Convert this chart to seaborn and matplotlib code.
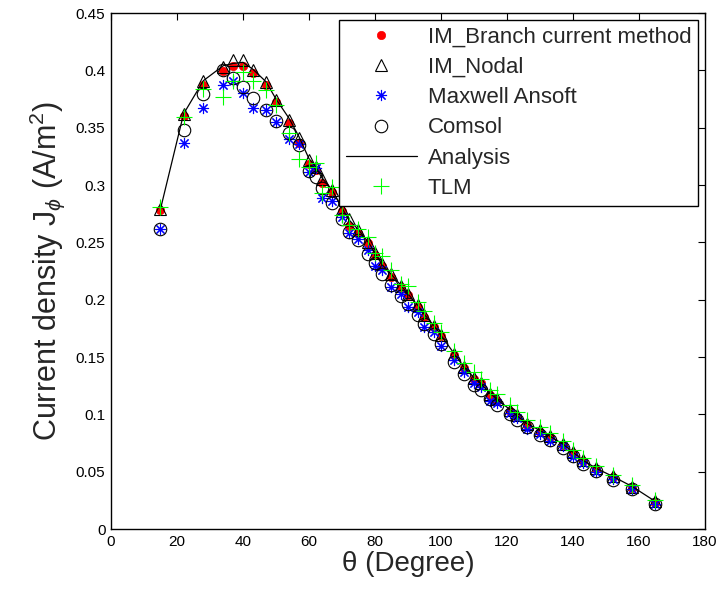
import numpy as np
import pandas as pd
import seaborn as sns
import matplotlib.pyplot as plt

# angle positions (degree)
theta = [15, 22, 28, 34, 37, 40, 43, 47, 50, 54, 57, 60, 62, 64, 67, 70, 72, 75, 78, 80,
         82, 85, 88, 90, 93, 95, 98, 100, 104, 107, 110, 112, 115, 117, 121, 123, 126, 130,
         133, 137, 140, 143, 147, 152, 158, 165]

branch = [0.278, 0.360, 0.3875, 0.399, 0.404, 0.4035, 0.398, 0.387, 0.372, 0.354, 0.337, 0.318,
          0.313, 0.302, 0.294, 0.277, 0.264, 0.258, 0.249, 0.239, 0.229, 0.220, 0.211, 0.204,
          0.194, 0.185, 0.176, 0.168, 0.152, 0.140, 0.131, 0.127, 0.117, 0.112, 0.103, 0.098,
          0.091, 0.085, 0.080, 0.073, 0.066, 0.059, 0.052, 0.045, 0.036, 0.023]

nodal = [0.279, 0.362, 0.391, 0.403, 0.409, 0.409, 0.400, 0.3895, 0.374, 0.357, 0.341, 0.322,
         0.316, 0.305, 0.296, 0.279, 0.270, 0.261, 0.250, 0.241, 0.231, 0.222, 0.212, 0.205,
         0.195, 0.187, 0.177, 0.169, 0.153, 0.141, 0.132, 0.127, 0.118, 0.113, 0.104, 0.099,
         0.092, 0.086, 0.081, 0.074, 0.067, 0.060, 0.053, 0.046, 0.037, 0.024]

maxwell = [0.262, 0.337, 0.3675, 0.387, 0.391, 0.380, 0.367, 0.365, 0.355, 0.340, 0.336, 0.311,
           0.315, 0.289, 0.286, 0.272, 0.258, 0.253, 0.243, 0.229, 0.226, 0.211, 0.205, 0.194,
           0.189, 0.176, 0.172, 0.160, 0.147, 0.137, 0.127, 0.124, 0.112, 0.110, 0.101, 0.097,
           0.087, 0.083, 0.077, 0.072, 0.063, 0.058, 0.050, 0.044, 0.035, 0.022]

comsol = [0.262, 0.348, 0.379, 0.400, 0.3935, 0.3855, 0.3755, 0.365, 0.3555, 0.345, 0.335, 0.312,
          0.307, 0.297, 0.284, 0.270, 0.259, 0.252, 0.240, 0.232, 0.222, 0.213, 0.203, 0.196,
          0.187, 0.179, 0.170, 0.161, 0.146, 0.135, 0.126, 0.121, 0.113, 0.108, 0.100, 0.095,
          0.089, 0.082, 0.078, 0.071, 0.064, 0.057, 0.051, 0.043, 0.035, 0.022]

analysis = [0.279, 0.362, 0.391, 0.404, 0.406, 0.407, 0.401, 0.390, 0.375, 0.358, 0.342, 0.323,
            0.316, 0.306, 0.296, 0.280, 0.270, 0.261, 0.250, 0.241, 0.231, 0.222, 0.212, 0.205,
            0.195, 0.187, 0.177, 0.169, 0.153, 0.141, 0.132, 0.127, 0.118, 0.113, 0.104, 0.099,
            0.092, 0.086, 0.081, 0.074, 0.067, 0.060, 0.053, 0.046, 0.037, 0.024]

tlm = [0.281, 0.359, 0.384, 0.377, 0.391, 0.3985, 0.391, 0.383, 0.3695, 0.345, 0.323, 0.316,
       0.319, 0.293, 0.298, 0.274, 0.265, 0.262, 0.255, 0.241, 0.238, 0.226, 0.214, 0.212,
       0.198, 0.190, 0.180, 0.172, 0.155, 0.145, 0.137, 0.131, 0.121, 0.118, 0.108, 0.102,
       0.095, 0.089, 0.084, 0.077, 0.069, 0.062, 0.055, 0.047, 0.038, 0.025]

df = pd.DataFrame({'theta': theta, 'branch': branch, 'nodal': nodal, 'maxwell': maxwell,
                   'comsol': comsol, 'analysis': analysis, 'tlm': tlm})

sns.set_style('white')
plt.rcParams['font.family'] = ['Liberation Sans', 'DejaVu Sans']
plt.rcParams['mathtext.fontset'] = 'custom'
plt.rcParams['mathtext.rm'] = 'Liberation Sans'
plt.rcParams['mathtext.it'] = 'Liberation Sans:italic'

fig = plt.figure(figsize=(7.23, 5.94), dpi=100)
ax = fig.add_axes([0.1535, 0.1094, 0.8215, 0.8687])

common = dict(ax=ax, x='theta', estimator=None, sort=False, linestyle='none')
sns.lineplot(data=df, y='branch', marker='o', markersize=6, color='red',
             markeredgecolor='red', markeredgewidth=0.5, label='IM_Branch current method', **common)
sns.lineplot(data=df, y='nodal', marker='^', markersize=9, color='black',
             markerfacecolor='none', markeredgecolor='black', markeredgewidth=0.8,
             label='IM_Nodal', **common)
sns.lineplot(data=df, y='maxwell', marker=(8, 2, 0), markersize=8, color='blue',
             markeredgecolor='blue', markeredgewidth=0.8, label='Maxwell Ansoft', **common)
sns.lineplot(data=df, y='comsol', marker='o', markersize=9, color='black',
             markerfacecolor='none', markeredgecolor='black', markeredgewidth=0.8,
             label='Comsol', **common)
sns.lineplot(data=df, x='theta', y='analysis', ax=ax, estimator=None, sort=False,
             color='black', linewidth=0.9, label='Analysis')
sns.lineplot(data=df, y='tlm', marker='+', markersize=11, color='#00ff00',
             markeredgecolor='#00ff00', markeredgewidth=0.8, label='TLM', **common)

ax.set_xlim(0, 180)
ax.set_ylim(0, 0.45)
ax.set_xticks(np.arange(0, 181, 20))
ax.set_yticks(np.arange(0, 0.451, 0.05))
ax.set_yticklabels(['0', '0.05', '0.1', '0.15', '0.2', '0.25', '0.3', '0.35', '0.4', '0.45'])
ax.tick_params(direction='in', top=True, right=True, length=5, width=0.8,
               labelsize=11, colors='black', pad=4)
for s in ax.spines.values():
    s.set_color('black')
    s.set_linewidth(1.0)

ax.set_xlabel('θ (Degree)', fontsize=20, labelpad=2)
ax.set_ylabel('Current density J$_{\\phi}$ (A/m$^{2}$)', fontsize=22, labelpad=6)

leg = ax.legend(loc='upper right', fontsize=16, frameon=True, fancybox=False,
                edgecolor='black', borderaxespad=0.3, handlelength=3.2,
                labelspacing=0.42, borderpad=0.3, handletextpad=0.5)
leg.get_frame().set_linewidth(1.0)
leg.get_frame().set_alpha(1)

fig.savefig('out.png', dpi=100)
